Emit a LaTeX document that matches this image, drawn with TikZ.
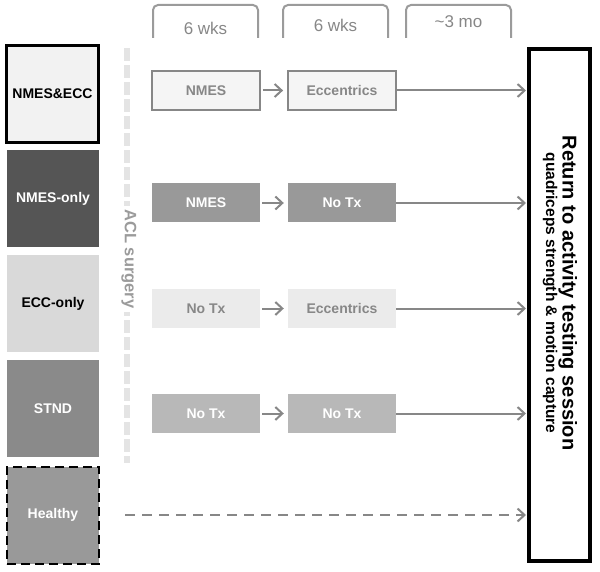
\documentclass[tikz,border=0pt]{standalone}
\usepackage{fontspec}
\setmainfont{Liberation Sans}
\usepackage{tikz}
\usetikzlibrary{arrows.meta,positioning}
\definecolor{txgray}{RGB}{135,135,135}
\definecolor{brgray}{RGB}{155,155,155}
\definecolor{surgery}{RGB}{228,228,228}
\definecolor{nmesecc}{RGB}{242,242,242}
\definecolor{nmesonly}{RGB}{85,85,85}
\definecolor{ecconly}{RGB}{217,217,217}
\definecolor{stnd}{RGB}{138,138,138}
\definecolor{healthy}{RGB}{153,153,153}
\definecolor{rowone}{RGB}{245,245,245}
\definecolor{rowtwo}{RGB}{153,153,153}
\definecolor{rowthree}{RGB}{235,235,235}
\definecolor{rowfour}{RGB}{184,184,184}

\begin{document}
\begin{tikzpicture}[x=1pt,y=-1pt,
    group/.style={minimum width=92pt, minimum height=97pt, inner sep=0pt,
        font=\fontsize{14}{16}\selectfont\bfseries},
    treat/.style={minimum width=108pt, minimum height=39pt, inner sep=0pt,
        font=\fontsize{14}{16}\selectfont\bfseries},
    arr/.style={draw=txgray, line width=2pt,
        -{Straight Barb[length=7pt,width=13pt]}},
    bracket/.style={draw=brgray, line width=2pt, rounded corners=5pt},
    period/.style={text=txgray, font=\fontsize{17}{20}\selectfont}]
    %% Background
    \useasboundingbox (0,0) rectangle (600,572);
    %% Durations
    \draw[bracket] (153,38) -- (153,5) -- (258,5) -- (258,38);
    \draw[bracket] (283,38) -- (283,5) -- (388,5) -- (388,38);
    \draw[bracket] (406,38) -- (406,5) -- (511,5) -- (511,38);
    \node[period] (wk1) at (205.5,28) {6 wks};
    \node[period] (wk2) at (335.5,25) {6 wks};
    \node[period] (mo3) at (458.5,22) {\textasciitilde3 mo};
    %% Groups
    \node[group, fill=nmesecc, draw=black, line width=3pt] (g1) at (52.5,94) {NMES\&ECC};
    \node[group, fill=nmesonly, text=white] (g2) at (53,198.5) {NMES-only};
    \node[group, fill=ecconly] (g3) at (53,303.5) {ECC-only};
    \node[group, fill=stnd, text=white] (g4) at (53,408.5) {STND};
    \node[group, fill=healthy, text=white, draw=black, line width=2pt,
        dash pattern=on 9pt off 5pt] (g5) at (53,515) {Healthy};
    %% Surgery
    \draw[surgery, line width=6pt, dash pattern=on 13pt off 4pt] (127,48) -- (127,463);
    \node[fill=white, rotate=-90, text=brgray, inner sep=3pt,
        font=\fontsize{16.5}{18}\selectfont\bfseries] (acl) at (129,259) {ACL surgery};
    %% Testing session
    \node[draw=black, line width=4pt, minimum width=61pt, minimum height=512pt,
        inner sep=0pt] (ret) at (559.5,305) {};
    \node[rotate=-90, align=center, inner sep=0pt] (rettext) at (560,293)
        {{\fontsize{20}{24}\selectfont\bfseries Return to activity testing session}\\
        {\fontsize{15.5}{16}\selectfont\bfseries quadriceps strength \& motion capture}};
    %% Treatments
    \node[treat, fill=rowone, draw=txgray, line width=1.8pt, text=txgray] (a1) at (206,90.5) {NMES};
    \node[treat, fill=rowone, draw=txgray, line width=1.8pt, text=txgray] (b1) at (342,90.5) {Eccentrics};
    \node[treat, fill=rowtwo, text=white] (a2) at (206,203) {NMES};
    \node[treat, fill=rowtwo, text=white] (b2) at (342,203) {No Tx};
    \node[treat, fill=rowthree, text=txgray] (a3) at (206,308.5) {No Tx};
    \node[treat, fill=rowthree, text=txgray] (b3) at (342,308.5) {Eccentrics};
    \node[treat, fill=rowfour, text=white] (a4) at (206,413.5) {No Tx};
    \node[treat, fill=rowfour, text=white] (b4) at (342,413.5) {No Tx};
    \coordinate (hstart) at (125,515);
    %% Arrows
    \foreach \r in {1,2,3,4}
    {
        \draw[arr, shorten <=2pt, shorten >=4pt] (a\r.east) -- (b\r.west);
        \draw[arr, shorten >=1pt] (b\r.east) -- (b\r.east -| ret.west);
    }
    \draw[arr, dash pattern=on 10pt off 7pt, shorten >=1pt] (hstart) -- (hstart -| ret.west);
\end{tikzpicture}
\end{document}
